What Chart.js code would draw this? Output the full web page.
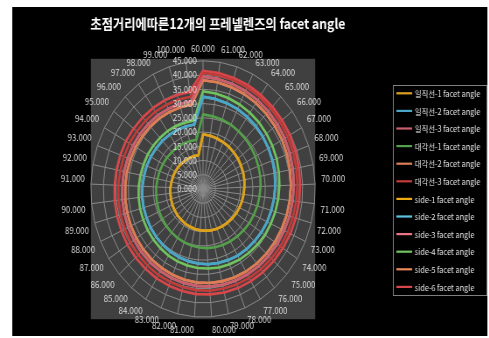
<!DOCTYPE html>
<html>
<head>
<meta charset="utf-8">
<script src="https://cdn.jsdelivr.net/npm/chart.js@4.4.0/dist/chart.umd.min.js"></script>
<style>
  html, body { margin: 0; padding: 0; background: #ffffff; overflow: hidden; }
  /* chart is laid out wide and squeezed horizontally */
  #wrap { width: 559px; height: 338px; transform: scaleX(0.875); transform-origin: 0 0; }
</style>
</head>
<body>
<div id="wrap"><canvas id="chart" width="559" height="338"></canvas></div>
<script>
const TITLE = "초점거리에따른12개의 프레넬렌즈의 facet angle";

const focal = [60, 61, 62, 63, 64, 65, 66, 67, 68, 69,
               70, 71, 72, 73, 74, 75, 76, 77, 78, 79,
               80, 81, 82, 83, 84, 85, 86, 87, 88, 89,
               90, 91, 92, 93, 94, 95, 96, 97, 98, 99, 100];

const radialTicks = [0, 5, 10, 15, 20, 25, 30, 35, 40, 45];

const straight1 = [19.2, 18.9, 18.6, 18.3, 18.1, 17.8, 17.6, 17.3, 17.1, 16.9,
                   16.6, 16.4, 16.2, 16.0, 15.8, 15.6, 15.4, 15.2, 15.0, 14.9,
                   14.7, 14.5, 14.4, 14.2, 14.1, 13.9, 13.8, 13.6, 13.5, 13.3,
                   13.2, 13.1, 12.9, 12.8, 12.7, 12.6, 12.4, 12.3, 12.2, 12.1, 12.0];
const straight2 = [32.4, 32.0, 31.6, 31.3, 30.9, 30.6, 30.2, 29.9, 29.6, 29.3,
                   29.0, 28.7, 28.4, 28.2, 27.9, 27.6, 27.4, 27.2, 26.9, 26.7,
                   26.5, 26.2, 26.0, 25.8, 25.6, 25.4, 25.2, 25.0, 24.8, 24.7,
                   24.5, 24.3, 24.1, 24.0, 23.8, 23.6, 23.5, 23.3, 23.2, 23.0, 22.9];
const straight3 = [39.4, 39.1, 38.7, 38.4, 38.1, 37.8, 37.5, 37.3, 37.0, 36.7,
                   36.5, 36.2, 36.0, 35.7, 35.5, 35.3, 35.1, 34.9, 34.7, 34.5,
                   34.3, 34.1, 33.9, 33.7, 33.5, 33.4, 33.2, 33.0, 32.9, 32.7,
                   32.6, 32.4, 32.3, 32.1, 32.0, 31.8, 31.7, 31.6, 31.4, 31.3, 31.2];
const diag1 = [26.2, 25.8, 25.5, 25.2, 24.8, 24.5, 24.2, 23.9, 23.6, 23.4,
               23.1, 22.8, 22.6, 22.3, 22.1, 21.8, 21.6, 21.4, 21.2, 21.0,
               20.8, 20.6, 20.4, 20.2, 20.0, 19.8, 19.6, 19.4, 19.3, 19.1,
               18.9, 18.8, 18.6, 18.5, 18.3, 18.2, 18.0, 17.9, 17.8, 17.6, 17.5];
const diag2 = [38.2, 37.9, 37.5, 37.2, 36.9, 36.6, 36.3, 36.1, 35.8, 35.5,
               35.3, 35.0, 34.8, 34.5, 34.3, 34.1, 33.9, 33.7, 33.5, 33.3,
               33.1, 32.9, 32.7, 32.5, 32.3, 32.2, 32.0, 31.8, 31.7, 31.5,
               31.4, 31.2, 31.1, 30.9, 30.8, 30.6, 30.5, 30.4, 30.2, 30.1, 30.0];
const diag3 = [40.7, 40.4, 40.1, 39.8, 39.5, 39.2, 38.9, 38.6, 38.4, 38.1,
               37.9, 37.6, 37.4, 37.2, 37.0, 36.7, 36.5, 36.3, 36.1, 35.9,
               35.8, 35.6, 35.4, 35.2, 35.1, 34.9, 34.7, 34.6, 34.4, 34.3,
               34.1, 34.0, 33.8, 33.7, 33.6, 33.4, 33.3, 33.2, 33.0, 32.9, 32.8];
const side1 = straight1;
const side2 = straight2;
const side3 = straight3;
const side4 = [34.3, 33.9, 33.5, 33.1, 32.7, 32.4, 32.0, 31.7, 31.4, 31.0,
               30.7, 30.4, 30.1, 29.8, 29.6, 29.3, 29.0, 28.8, 28.5, 28.3,
               28.0, 27.8, 27.6, 27.4, 27.2, 26.9, 26.7, 26.5, 26.3, 26.2,
               26.0, 25.8, 25.6, 25.4, 25.3, 25.1, 24.9, 24.8, 24.6, 24.4, 24.3];
const side5 = diag2;
const side6 = [41.5, 41.2, 40.9, 40.7, 40.4, 40.1, 39.9, 39.7, 39.4, 39.2,
               39.0, 38.8, 38.6, 38.4, 38.2, 38.0, 37.8, 37.6, 37.5, 37.3,
               37.1, 37.0, 36.8, 36.6, 36.5, 36.3, 36.2, 36.1, 35.9, 35.8,
               35.7, 35.5, 35.4, 35.3, 35.2, 35.0, 34.9, 34.8, 34.7, 34.6, 34.5];

const seriesNames = ["일직선-1 facet angle", "일직선-2 facet angle", "일직선-3 facet angle",
                     "대각선-1 facet angle", "대각선-2 facet angle", "대각선-3 facet angle",
                     "side-1 facet angle", "side-2 facet angle", "side-3 facet angle",
                     "side-4 facet angle", "side-5 facet angle", "side-6 facet angle"];
const seriesValues = [straight1, straight2, straight3, diag1, diag2, diag3,
                      side1, side2, side3, side4, side5, side6];
const seriesColors = ["#dca21e", "#4aa6c6", "#c95f6c", "#55a04a", "#dc7d55", "#c23c3a",
                      "#f0aa12", "#5cc2df", "#ea7482", "#70c45e", "#ec8a5c", "#d8464a"];

const FONT = '"Noto Sans CJK KR", "Noto Sans", sans-serif';

// title, black frame, grey plot box, radial tick labels and boxed legend
const decor = {
    id: 'decor',
    beforeDraw(chart) {
        const {ctx, width, height} = chart;
        const r = chart.scales.r;
        ctx.save();
        ctx.fillStyle = '#ffffff';
        ctx.fillRect(0, 0, width, height);
        ctx.fillStyle = '#000000';
        ctx.fillRect(14, 7, width - 16, height - 9);
        ctx.fillStyle = '#404040';
        ctx.fillRect(r.xCenter - r.drawingArea, r.yCenter - r.drawingArea - 2,
                     r.drawingArea * 2, r.drawingArea * 2 + 4);
        ctx.restore();
    },
    afterDraw(chart) {
        const {ctx} = chart;
        const r = chart.scales.r;
        ctx.save();

        ctx.fillStyle = '#ffffff';
        ctx.font = 'bold 14px ' + FONT;
        ctx.textAlign = 'center';
        ctx.textBaseline = 'middle';
        ctx.fillText(TITLE, 249, 24);

        ctx.fillStyle = '#dcdcdc';
        ctx.font = '9px ' + FONT;
        ctx.textAlign = 'right';
        radialTicks.forEach((v) => {
            const d = r.getDistanceFromCenterForValue(v);
            ctx.fillText(v.toFixed(3), r.xCenter - 7, r.yCenter - d);
        });

        ctx.strokeStyle = '#7f7f7f';
        ctx.lineWidth = 1;
        ctx.strokeRect(449.5, 85.5, 107, 210);
        ctx.textAlign = 'left';
        ctx.font = '8.4px ' + FONT;
        chart.data.datasets.forEach((ds, i) => {
            const y = 93.3 + 17.6 * i;
            ctx.strokeStyle = ds.borderColor;
            ctx.lineWidth = 2.2;
            ctx.beginPath();
            ctx.moveTo(453, y);
            ctx.lineTo(471, y);
            ctx.stroke();
            ctx.fillStyle = '#e6e6e6';
            ctx.fillText(ds.label, 474, y + 0.5);
        });
        ctx.restore();
    }
};

new Chart(document.getElementById('chart'), {
    type: 'radar',
    data: {
        labels: focal.map((f) => f.toFixed(3)),
        datasets: seriesNames.map((name, i) => ({
            label: name,
            data: seriesValues[i],
            borderColor: seriesColors[i],
            backgroundColor: seriesColors[i],
            borderWidth: 2.6,
            borderJoinStyle: 'round',
            pointRadius: 0,
            fill: false
        }))
    },
    options: {
        responsive: false,
        devicePixelRatio: 1,
        animation: false,
        layout: { padding: { left: 42, right: 137, top: 43, bottom: 3 } },
        plugins: {
            legend: { display: false },
            title: { display: false },
            tooltip: { enabled: false }
        },
        scales: {
            r: {
                min: 0,
                max: 45,
                ticks: { stepSize: 5, display: false },
                grid: { color: '#8a8a8a', lineWidth: 1 },
                angleLines: { color: '#8a8a8a', lineWidth: 1 },
                pointLabels: {
                    color: '#dcdcdc',
                    padding: 7,
                    font: { family: FONT, size: 9 }
                }
            }
        }
    },
    plugins: [decor]
});
</script>
</body>
</html>
